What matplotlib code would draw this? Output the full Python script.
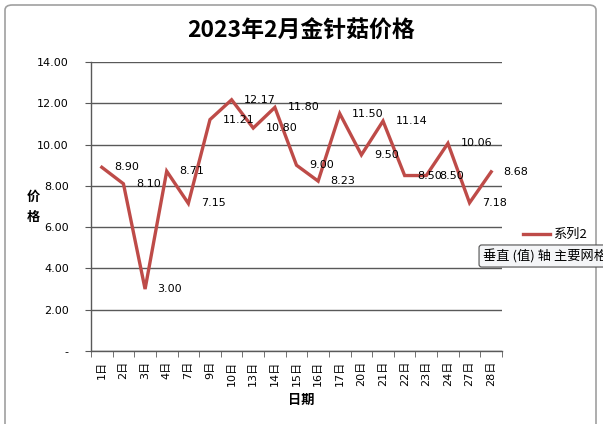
import matplotlib
matplotlib.use("Agg")
import matplotlib.pyplot as plt
from matplotlib.patches import FancyBboxPatch
from matplotlib.lines import Line2D

CJK = ['Noto Sans CJK SC', 'DejaVu Sans']
NUM = ['DejaVu Sans', 'Noto Sans CJK SC']
plt.rcParams['font.family'] = CJK

title = "2023年2月金针菇价格"
dates = ["1日", "2日", "3日", "4日", "7日", "9日", "10日", "13日", "14日", "15日",
         "16日", "17日", "20日", "21日", "22日", "23日", "24日", "27日", "28日"]
prices = [8.90, 8.10, 3.00, 8.71, 7.15, 11.21, 12.17, 10.80, 11.80, 9.00,
          8.23, 11.50, 9.50, 11.14, 8.50, 8.50, 10.06, 7.18, 8.68]
yticks = [0, 2, 4, 6, 8, 10, 12, 14]
ytick_labels = ["-", "2.00", "4.00", "6.00", "8.00", "10.00", "12.00", "14.00"]
series_name = "系列2"
tooltip = "垂直 (值) 轴 主要网格线"

W, H = 603, 424
fig = plt.figure(figsize=(W / 100, H / 100), dpi=100)
fig.patch.set_facecolor('white')

# chart area frame
frame = FancyBboxPatch((5 / W, -12 / H), (596 - 5) / W, (H - 5 + 12) / H,
                       boxstyle="round,pad=0,rounding_size=0.012",
                       transform=fig.transFigure, facecolor='white',
                       edgecolor='#a0a0a0', linewidth=1.2, zorder=-5)
fig.patches.append(frame)

ax = fig.add_axes([91 / W, 1 - 351 / H, (502 - 91) / W, (351 - 62) / H])
ax.set_zorder(2)
ax.set_facecolor('none')
color = '#BE4B48'
x = list(range(len(dates)))
ax.plot(x, prices, color=color, linewidth=2.4, solid_joinstyle='miter', zorder=3)
for xi, v in zip(x, prices):
    ax.annotate(f"{v:.2f}", (xi, v), xytext=(9, 0), textcoords='offset points',
                ha='left', va='center', fontsize=8, family=NUM, color='black',
                zorder=4)

ax.set_xlim(-0.5, len(dates) - 0.5)
ax.set_ylim(0, 14)
ax.set_yticks(yticks)
ax.set_yticklabels(ytick_labels, fontsize=8, family=NUM)
ax.yaxis.grid(True, color='#595959', linewidth=1)
ax.set_axisbelow(True)

ax.set_xticks(x)
ax.set_xticklabels(dates, rotation=90, fontsize=8, family=NUM)
ax.set_xticks([i - 0.5 for i in range(len(dates) + 1)], minor=True)
ax.tick_params(axis='x', which='major', length=0, pad=7)
ax.tick_params(axis='x', which='minor', length=4, color='#595959', direction='out')
ax.tick_params(axis='y', length=4, color='#595959', pad=12)

for s in ['top', 'right']:
    ax.spines[s].set_visible(False)
for s in ['left', 'bottom']:
    ax.spines[s].set_color('#595959')
    ax.spines[s].set_linewidth(1)

fig.text(301 / W, 1 - 31 / H, title, ha='center', va='center', fontsize=16.5,
         fontweight='bold')
fig.text(301 / W, 1 - 400 / H, "日期", ha='center', va='center', fontsize=9.5,
         fontweight='bold')
fig.text(33 / W, 1 - 207 / H, "价\n格", ha='center', va='center', fontsize=9.5,
         fontweight='bold', linespacing=1.5)

# legend
fig.lines.append(Line2D([523 / W, 550 / W], [1 - 234 / H, 1 - 234 / H],
                        transform=fig.transFigure, color=color, linewidth=2.4))
fig.text(553 / W, 1 - 234 / H, series_name, ha='left', va='center', fontsize=9.5)

# tooltip
fig.text(483 / W, 1 - 256 / H, tooltip, ha='left', va='center', fontsize=9.5,
         bbox=dict(boxstyle='round,pad=0.3,rounding_size=0.2', facecolor='#f4f5f7',
                   edgecolor='#505050', linewidth=0.8), zorder=10)

fig.savefig("out.png", dpi=100)
